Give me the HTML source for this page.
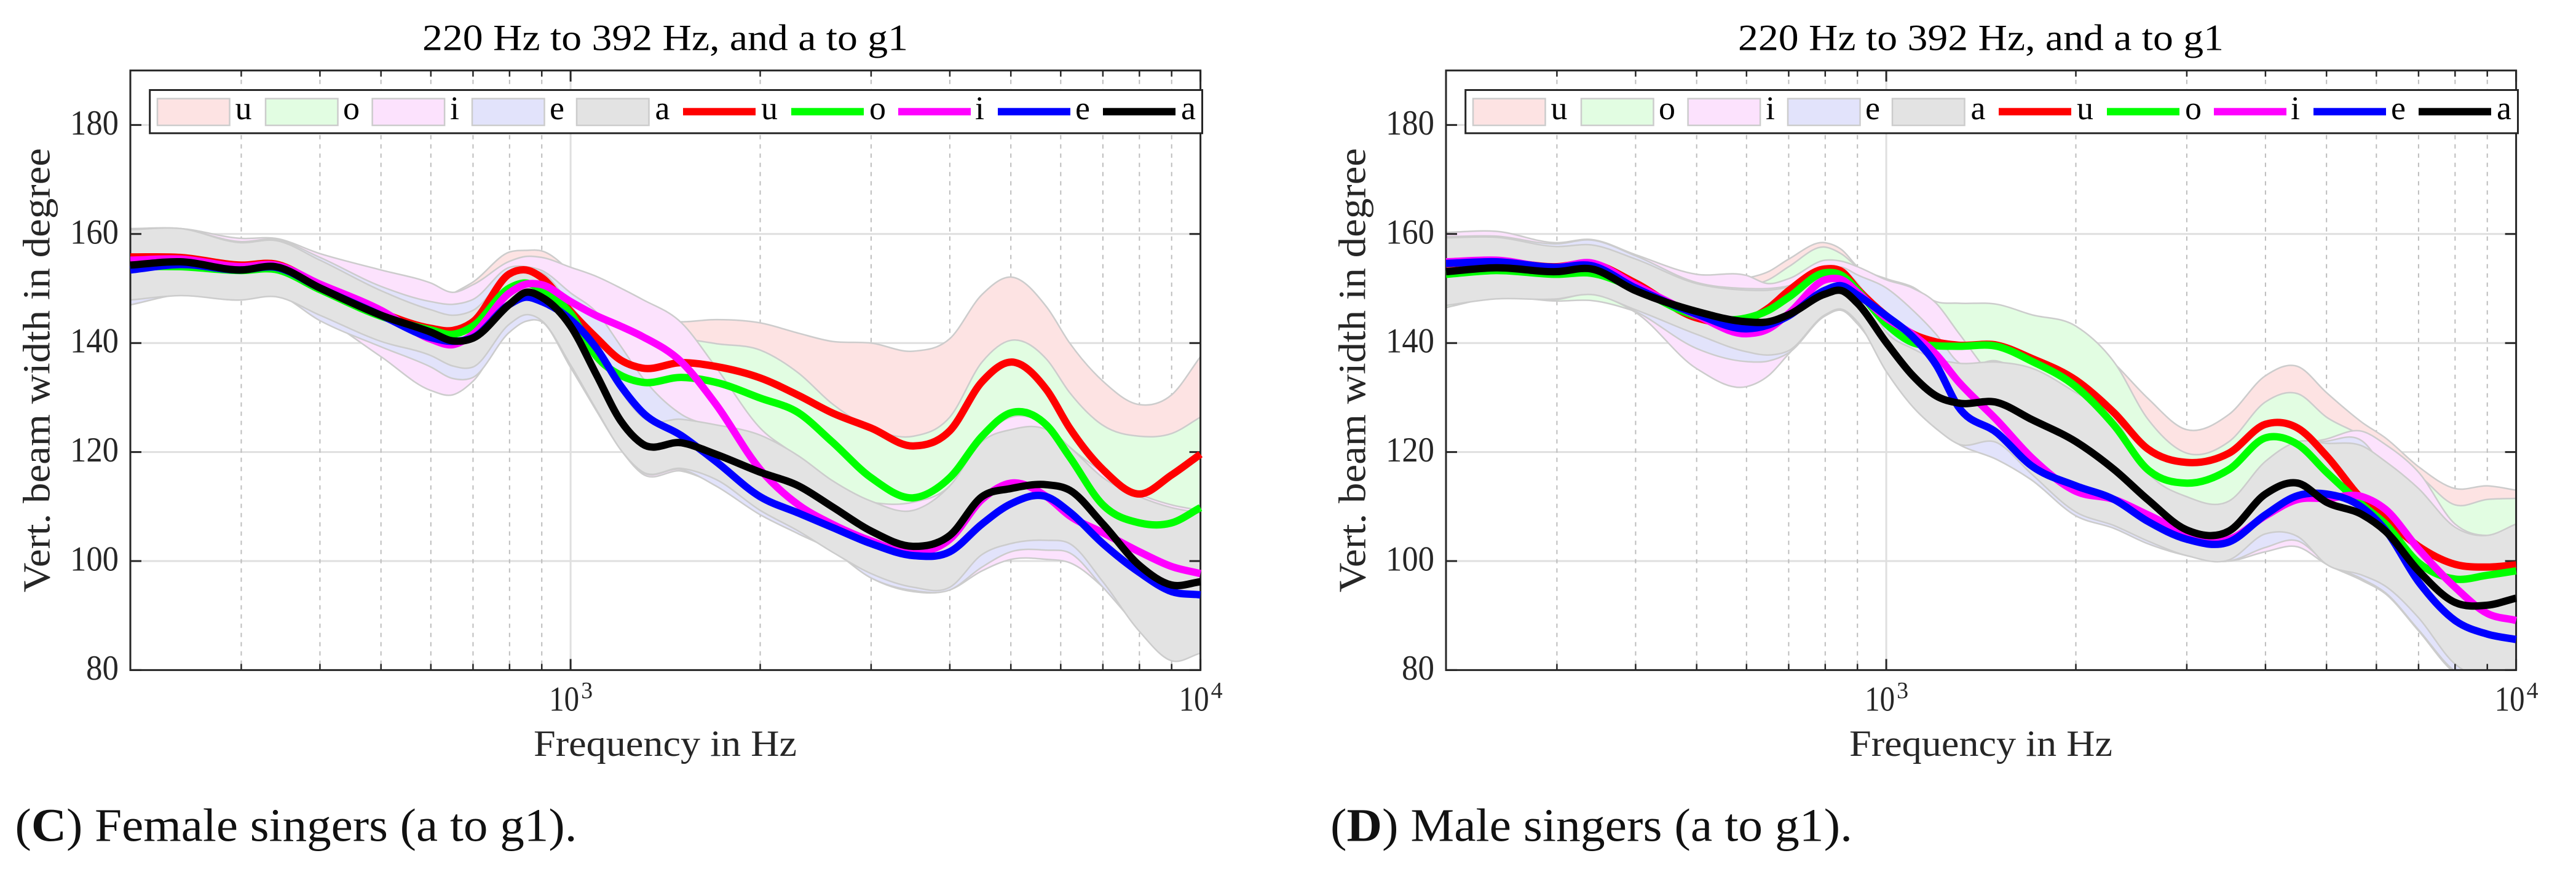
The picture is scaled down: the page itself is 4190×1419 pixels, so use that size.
<!DOCTYPE html>
<html lang="en">
<head>
<meta charset="utf-8">
<title>Vertical beam width, 220 Hz to 392 Hz, a to g1</title>
<style>
html,body{margin:0;padding:0;background:#fff;}
svg{display:block;font-family:"Liberation Serif",serif;}
</style>
</head>
<body>
<svg id="figure" xmlns="http://www.w3.org/2000/svg" width="4190" height="1419" viewBox="0 0 4190 1419">
<rect x="0" y="0" width="4190" height="1419" fill="#fff"/>
<g id="panel-female"></g>
<g id="panel-male" transform="translate(2140,0)"></g>
<text x="24.5" y="1368.5" font-size="76" fill="#111" textLength="914" lengthAdjust="spacingAndGlyphs">(<tspan font-weight="bold">C</tspan>) Female singers (a to g1).</text>
<text x="2164" y="1368.5" font-size="76" fill="#111" textLength="849" lengthAdjust="spacingAndGlyphs">(<tspan font-weight="bold">D</tspan>) Male singers (a to g1).</text>
</svg>
<script>
// ---- shared axis data ----
const freqHz = [200,240,300,340,400,500,600,650,700,800,850,900,1000,1100,1200,1300,1500,1700,2000,2300,2600,3000,3500,4000,4500,5000,5700,6200,7000,8000,9000,10000];
const yTickValues = [80,100,120,140,160,180];
const xMajorTicks = [1000,10000];
const xMajorExponents = ['3','4'];
const xMinorTicks = [300,400,500,600,700,800,900,2000,3000,4000,5000,6000,7000,8000,9000];
const legendLabels = ['u','o','i','e','a'];
const bandFills = ['#fde3e3','#e2fde2','#fce2fd','#e2e3fb','#e3e3e3'];
const lineColors = ['#ff0000','#00ff00','#ff00ff','#0000ff','#000000'];

// ---- (C) female singers: means ----
const femaleMeanU = [155.8,155.7,154.3,154.5,150.6,145.6,142.7,142.3,143.9,152.7,153.4,152,145.8,140.9,136.9,135.4,136.4,135.7,133.6,130.4,127.2,124.4,121.1,123.9,132.9,136.5,131.4,124.4,116.8,112.3,115.8,119.6];
const femaleMeanO = [154,154,153.3,153.5,149.8,144.9,142.4,141.6,143.1,150.1,151,149.8,145.4,137.5,134.1,132.8,133.7,132.8,129.9,127.2,121.9,115.3,111.6,115.3,122.9,127.2,124.9,119.1,110.3,107,107,109.8];
const femaleMeanI = [155.2,155.4,154,154.3,150.8,146,140.7,139.7,141.6,149.2,150.8,150.7,147.6,145,143.1,141.2,136.5,128.8,116.8,110.3,106.8,103.7,101.5,104,111.3,114.3,111.8,108.3,105.2,101.7,99,97.7];
const femaleMeanE = [153.4,154.4,153.4,153.9,150.1,145.1,141,140.3,141,147.1,148.4,147.6,144.3,139,132.2,127.3,123,118.3,111.8,108.8,106.2,103.2,101,101.7,106.8,110.5,111.8,109,103.2,97.9,94.4,93.8];
const femaleMeanA = [154.3,154.9,153.4,154,150.1,145.1,142,140.4,140.9,147.1,149.3,148.4,143.1,134.1,125.8,121.5,121.7,119.6,116.3,113.8,110,105.5,102.7,104.7,111.8,113.3,114,113,106.8,99.2,95.6,96.2];
// ---- (C) female singers: band limits ----
const femaleUpperU = [160.5,160.8,158,158.5,155,150,147,149.1,151.2,156.7,157,156.9,153.1,148,146,144.5,143.9,144.3,143.7,141.8,140.3,140,138.5,140.8,148.9,152.1,146.6,140,133,128.7,130.5,137.5];
const femaleLowerU = [147.8,149,148.2,149,146,141,138.5,137.5,138,145,146,147,141,133,126,121,120,118,115,111,112,111,109,111,116,120,118,113,110,106,104,104];
const femaleUpperO = [160.5,160.6,158.3,158.6,155,150,146.5,146,146,151,152,153,150,147,145,143,141,139.9,138.7,134.5,128.9,124.4,122.9,126.4,136.5,140.5,137,130.9,124.9,122.9,123.4,126.4];
const femaleLowerO = [147.5,149,148.2,148.8,146,141,138,136.5,137,144,145,146,140,132,125,120,119,117,113,109,112,110,108,110,115,118,116,112,110,108,106,104];
const femaleUpperI = [160.9,161,159.2,159.2,156.4,153.4,151,149.3,150.7,155,155.9,155.7,153.9,152.2,150.1,148,143.7,135.6,124.4,119,113,110.8,110.8,113.8,122.4,126.4,124.9,120.9,116.3,112.3,110.3,109.3];
const femaleLowerI = [147,148.9,148,149,145,137.5,131.3,130.5,133,142.6,144,144,135.7,127.5,120.5,116,116.5,114,108.5,105,102,96.9,94.4,94.7,98.2,100.3,100.3,99.7,95.2,87.6,81.8,83.3];
const femaleUpperE = [161,161,158.6,159,155.7,150.4,147.6,147.1,148,153.9,154,153.3,149.2,145.6,139.5,133.7,126.9,124.5,121,117,112,108,106,110,118,122,122,118,112,108,106,105];
const femaleLowerE = [147,148.9,147.9,148.9,144.1,139.3,135.6,133.5,133.7,142,144,143.9,135.5,127.5,120.5,116.3,116.8,113.8,108.5,105,102,96.9,94.6,94.7,98.9,101.7,102,101.5,95.2,87.6,81.8,83.3];
const femaleUpperA = [160.8,161,158.4,158.8,155.2,149.6,146.1,145.1,146,152.5,153,152.9,146.9,140.5,131.4,126.4,126,125,123.1,119.3,114.8,111,109.3,113.8,121.9,124.1,124.1,120.9,115.3,111.8,109.8,108.8];
const femaleLowerA = [147.9,148.7,147.9,148.5,145.1,140.3,137.7,135.8,135.6,143.5,145.2,144.1,136,127.7,120.5,116.4,117,115,109.3,105.5,101.7,97.7,95.2,95.2,101.2,103.2,103.8,103.2,96.2,87.1,81.7,83.1];

// ---- (D) male singers: means ----
const maleMeanU = [154.5,155,154,154.6,151,144.6,144.2,146.4,149.6,153.6,153.1,149.9,145,141.7,140.2,139.6,139.6,137.2,133.2,127.2,120.6,118.1,119.8,125.1,124.4,119.3,111.3,107.8,102.7,99.4,98.9,99.3];
const maleMeanO = [152.6,153.3,152.6,152.8,150,145,144.6,146,148.4,152.9,152.4,149.7,143.5,140.1,139.5,139.4,139.4,136.7,132,124.9,116.8,114.3,116.8,122.6,121.4,116.3,110.3,106.8,99.7,96.7,97.4,98.2];
const maleMeanI = [154.9,155.2,153.9,154.7,150.6,145.1,141.7,142.6,145.4,151.6,151.6,149.3,144.6,141.6,137.9,133,125.8,119,112.8,111.3,108.5,105.2,104,108.3,111.3,111.5,111.8,109.5,102.2,95.2,90.4,89.1];
const maleMeanE = [154.6,154.9,153.9,154.2,150.1,145.3,142.6,143.3,145,149.7,150.5,148.8,145,141.2,136,128.4,123.5,117.5,113.8,111.3,107.3,104,103.5,108.5,112,112.3,109.8,105.7,96.2,89.1,86.6,85.6];
const maleMeanA = [153.1,153.8,153.1,153.6,149.6,145.8,143.9,143.9,145.2,149,149.6,147.3,140.1,134.1,130.3,129,129.1,126,121.9,116.8,111.3,105.7,105.5,112.3,114.3,110.8,108.5,105.5,98.2,92.4,91.9,93.2];
// ---- (D) male singers: band limits ----
const maleUpperU = [159.7,159.8,158,158.5,155.5,151,151.9,153.1,155.4,158.4,157.1,154,150.5,149,147.5,147,146.5,145,142.5,136.3,129.9,124.1,126.9,134,135.7,130.9,125.4,122.6,117.3,113.3,113.8,113];
const maleLowerU = [147,148.6,148,148.2,146,141.5,139.5,138.5,139,145.5,146.5,144,136.5,129.5,125.5,122.5,121.5,115.5,109.5,107,110.5,108.5,107.5,110.5,112.5,110.5,100.5,95.5,88.5,80.5,79,80.5];
const maleUpperO = [159.6,159.7,158,158.5,155.5,151,150.5,151.6,154,157.6,156.3,154,151.8,150.3,147.6,147.3,147.1,145.2,143.1,136.5,126.1,119.8,121.9,129.2,130.7,126.4,122.9,119.8,115.8,110.3,111.3,111.5];
const maleLowerO = [146.5,148.4,147.7,147.8,145.8,141,139,138,139,145,146,143.5,136,129,125,122,121,115,109,106.5,110,108,107,110,112,110,96.8,94.4,88,80,78.5,80.2];
const maleUpperI = [160.3,160.5,158.4,159,156.2,152.6,152.4,150.9,151.8,155.2,155,154,151.6,150.1,147.3,142,133,130,128,124,115,111,110.5,117,121,122.4,123.8,121.4,116.3,106.8,104.7,106.3];
const maleLowerI = [147.1,148.5,148,149,145.6,135.3,132,134,138,145,146,143.9,135,128.4,124.3,121.5,118.6,114.9,108.3,106,103.2,101,100,101.7,102.6,99.4,96.4,94,87.2,79.5,78,80];
const maleUpperE = [159.5,159.6,158.2,158.9,156,151.1,150,150,150.5,153.7,153.9,152.5,150.1,146.1,141.6,136.5,136.7,134,130,125,116,111,110.5,117,121,122,122,117,112,105,104,106];
const maleLowerE = [147.1,148.9,148,149,145.8,139,136.6,136.7,138.2,145,146,143.9,134.8,128.4,124.3,121.5,118.6,114.9,108.3,106,103.2,101,100,102.5,103.7,99.7,96.7,94.2,87.4,79.8,78,80];
const maleUpperA = [159.3,159.4,157.7,158,155.4,150.9,149.7,149.7,150.3,153.7,153.5,151,142,139,137.1,136.3,136.5,135.4,130.9,126.4,116.3,111.8,111,118.3,121.9,121.6,121.1,118.3,113.3,106.2,104.7,106.8];
const maleLowerA = [146.9,148.1,148.1,148.9,146.1,141.6,138.4,137.8,138.6,145.2,146.2,143.9,134.8,128.4,124.3,121.5,121.7,116,109,106.5,103.7,101,100.2,105,104.5,99.4,97.4,95.4,89.6,81.1,78.5,80.2];

// ---- axis functions ----
const plotLeft = 212, plotRight = 1952.6, plotTop = 114.7, plotBottom = 1090.4;
const xMinHz = 200, xMaxHz = 10000, yMin = 80, yMax = 190;
function xScale(hz){
  return plotLeft + (plotRight - plotLeft) * Math.log10(hz / xMinHz) / Math.log10(xMaxHz / xMinHz);
}
function yScale(v){
  return plotBottom - (plotBottom - plotTop) * (v - yMin) / (yMax - yMin);
}

const NS = 'http://www.w3.org/2000/svg';
function mk(parent, tag, props, txt){
  const el = document.createElementNS(NS, tag);
  for (const k in props) el.setAttribute(k, props[k]);
  if (txt !== undefined) el.textContent = txt;
  parent.appendChild(el);
  return el;
}

// smooth cubic segments through the data points (three-point non-uniform tangents)
function segments(xs, ys){
  const n = xs.length, m = [];
  for (let i = 0; i < n; i++){
    if (i === 0){
      m.push((ys[1] - ys[0]) / (xs[1] - xs[0]));
    } else if (i === n - 1){
      m.push((ys[n - 1] - ys[n - 2]) / (xs[n - 1] - xs[n - 2]));
    } else {
      const h0 = xs[i] - xs[i - 1], h1 = xs[i + 1] - xs[i];
      const d0 = (ys[i] - ys[i - 1]) / h0, d1 = (ys[i + 1] - ys[i]) / h1;
      m.push((d0 * h1 + d1 * h0) / (h0 + h1));
    }
  }
  let d = '';
  for (let i = 0; i < n - 1; i++){
    const dx = (xs[i + 1] - xs[i]) / 3;
    d += 'C' + (xs[i] + dx).toFixed(1) + ' ' + (ys[i] + m[i] * dx).toFixed(1) + ' ' +
         (xs[i + 1] - dx).toFixed(1) + ' ' + (ys[i + 1] - m[i + 1] * dx).toFixed(1) + ' ' +
         xs[i + 1].toFixed(1) + ' ' + ys[i + 1].toFixed(1);
  }
  return d;
}
function linePath(values){
  const xs = freqHz.map(xScale), ys = values.map(yScale);
  return 'M' + xs[0].toFixed(1) + ' ' + ys[0].toFixed(1) + segments(xs, ys);
}
function bandPath(upper, lower){
  const xs = freqHz.map(xScale), yu = upper.map(yScale), yl = lower.map(yScale);
  const xr = xs.slice().reverse(), ylr = yl.slice().reverse();
  return 'M' + xs[0].toFixed(1) + ' ' + yu[0].toFixed(1) + segments(xs, yu) +
         'L' + xr[0].toFixed(1) + ' ' + ylr[0].toFixed(1) + segments(xr, ylr) + 'Z';
}

function drawGrid(g){
  yTickValues.forEach(function(v){
    if (v === yMin) return;
    const ln = mk(g, 'line', {x1: plotLeft, x2: plotRight, y1: yScale(v), y2: yScale(v), stroke: '#dfdfdf', 'stroke-width': 3});
    
    
  });
  xMinorTicks.forEach(function(f){
    const ln = mk(g, 'line', {x1: xScale(f), x2: xScale(f), y1: plotTop, y2: plotBottom, stroke: '#bdbdbd', 'stroke-width': 2, 'stroke-dasharray': '7 8'});
    
    
  });
  const major = mk(g, 'line', {x1: xScale(1000), x2: xScale(1000), y1: plotTop, y2: plotBottom, stroke: '#dfdfdf', 'stroke-width': 3});
  
  
}

function drawAxes(g){
  const c = '#262626';
  const box = mk(g, 'rect', {x: plotLeft, y: plotTop, width: plotRight - plotLeft, height: plotBottom - plotTop, fill: 'none', stroke: c, 'stroke-width': 3});
  
  
  yTickValues.forEach(function(v){
    const y = yScale(v);
    const t1 = mk(g, 'line', {x1: plotLeft, x2: plotLeft + 18, y1: y, y2: y, stroke: c, 'stroke-width': 3});
    
    
    const t2 = mk(g, 'line', {x1: plotRight - 18, x2: plotRight, y1: y, y2: y, stroke: c, 'stroke-width': 3});
    
    
    const len = v >= 100 ? 79 : 53;
    const lab = mk(g, 'text', {x: 193 - len, y: y + 15.5, 'font-size': 57, fill: c, textLength: len, lengthAdjust: 'spacingAndGlyphs'}, String(v));
    
    
  });
  xMinorTicks.forEach(function(f){
    const x = xScale(f);
    const t1 = mk(g, 'line', {x1: x, x2: x, y1: plotBottom, y2: plotBottom - 10, stroke: c, 'stroke-width': 2.5});
    
    
    const t2 = mk(g, 'line', {x1: x, x2: x, y1: plotTop, y2: plotTop + 10, stroke: c, 'stroke-width': 2.5});
    
    
  });
  xMajorTicks.forEach(function(f, i){
    const x = xScale(f);
    const t1 = mk(g, 'line', {x1: x, x2: x, y1: plotBottom, y2: plotBottom - 18, stroke: c, 'stroke-width': 3});
    
    
    const t2 = mk(g, 'line', {x1: x, x2: x, y1: plotTop, y2: plotTop + 18, stroke: c, 'stroke-width': 3});
    
    
    const base = mk(g, 'text', {x: x - 35, y: 1156.5, 'font-size': 57, fill: c, textLength: 49, lengthAdjust: 'spacingAndGlyphs'}, '10');
    
    
    const exp = mk(g, 'text', {x: x + 17, y: 1136, 'font-size': 38, fill: c}, xMajorExponents[i]);
    
    
  });
}

function drawLegend(g){
  const patchX = [256, 432, 605.6, 768, 938];
  const patchTextX = [382.5, 558, 732, 894, 1065.5];
  const lineX = [1111, 1287, 1461, 1623, 1794];
  const lineTextX = [1238, 1414, 1586, 1749, 1921];
  const lg = mk(g, 'g', {});
  
  
  const box = mk(lg, 'rect', {x: 243.7, y: 146.5, width: 1711.8, height: 70.3, fill: '#fff', stroke: '#262626', 'stroke-width': 3});
  
  
  legendLabels.forEach(function(lab, i){
    const p = mk(lg, 'rect', {x: patchX[i], y: 160.5, width: 117.5, height: 43.5, fill: bandFills[i], stroke: '#cccccc', 'stroke-width': 2.5});
    
    
    const t = mk(lg, 'text', {x: patchTextX[i], y: 194, 'font-size': 54, fill: '#000'}, lab);
    
    
    const l = mk(lg, 'rect', {x: lineX[i], y: 175.7, width: 118, height: 12, fill: lineColors[i]});
    
    
    const t2 = mk(lg, 'text', {x: lineTextX[i], y: 194, 'font-size': 54, fill: '#000'}, lab);
    
    
  });
}

function drawPanel(g, clipId, means, uppers, lowers){
  drawGrid(g);
  const defs = mk(g, 'defs', {});
  const clip = mk(defs, 'clipPath', {id: clipId});
  mk(clip, 'rect', {x: plotLeft, y: plotTop, width: plotRight - plotLeft, height: plotBottom - plotTop});
  const bands = mk(g, 'g', {'clip-path': 'url(#' + clipId + ')'});
  
  
  legendLabels.forEach(function(lab, i){
    const b = mk(bands, 'path', {d: bandPath(uppers[i], lowers[i]), fill: bandFills[i], stroke: '#cccccc', 'stroke-width': 2.5});
    
    
  });
  drawAxes(g);
  legendLabels.forEach(function(lab, i){
    const l = mk(g, 'path', {d: linePath(means[i]), fill: 'none', stroke: lineColors[i], 'stroke-width': 12, 'stroke-linejoin': 'round'});
    
    
  });
  drawLegend(g);
  const title = mk(g, 'text', {x: 687, y: 81.7, 'font-size': 60, fill: '#000', textLength: 790, lengthAdjust: 'spacingAndGlyphs'}, '220 Hz to 392 Hz, and a to g1');
  
  
  const xt = mk(g, 'text', {x: 868, y: 1230, 'font-size': 60, fill: '#262626', textLength: 428, lengthAdjust: 'spacingAndGlyphs'}, 'Frequency in Hz');
  
  
  const yt = mk(g, 'text', {x: 0, y: 0, 'font-size': 62, fill: '#262626', textLength: 723, lengthAdjust: 'spacingAndGlyphs', transform: 'translate(80.7,964) rotate(-90)'}, 'Vert. beam width in degree');
  
  
}

drawPanel(document.getElementById('panel-female'), 'clip-female',
  [femaleMeanU, femaleMeanO, femaleMeanI, femaleMeanE, femaleMeanA],
  [femaleUpperU, femaleUpperO, femaleUpperI, femaleUpperE, femaleUpperA],
  [femaleLowerU, femaleLowerO, femaleLowerI, femaleLowerE, femaleLowerA]);
drawPanel(document.getElementById('panel-male'), 'clip-male',
  [maleMeanU, maleMeanO, maleMeanI, maleMeanE, maleMeanA],
  [maleUpperU, maleUpperO, maleUpperI, maleUpperE, maleUpperA],
  [maleLowerU, maleLowerO, maleLowerI, maleLowerE, maleLowerA]);
</script>
</body>
</html>
